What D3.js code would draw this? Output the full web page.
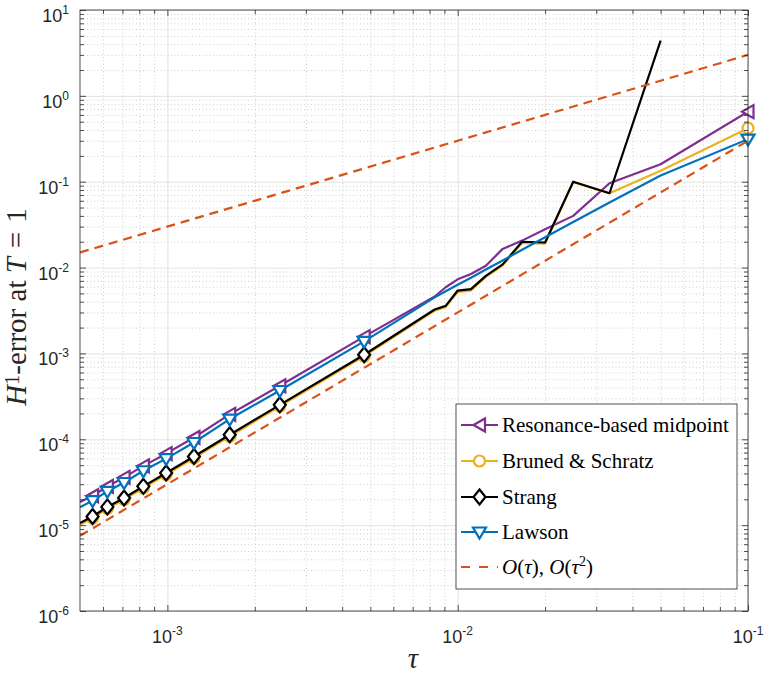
<!DOCTYPE html>
<html>
<head>
<meta charset="utf-8">
<script src="https://d3js.org/d3.v7.min.js"></script>
<style>
body { margin: 0; background: #fff; }
</style>
</head>
<body>
<script>
// number of steps N, tau = 1/N (T = 1)
var markerSteps = [10, 210, 410, 610, 810, 1010, 1210, 1410, 1610, 1810];

var resSteps = [10, 20, 30, 40, 50, 60, 70, 80, 90, 100, 110, 120, 210, 410, 610, 810, 1010, 1210, 1410, 1610, 1810, 2000];
var resErr   = [0.655, 0.160, 0.096, 0.040, 0.0280, 0.0206, 0.0165, 0.0105, 0.0084, 0.0073, 0.0059, 0.0046,
                1.57e-3, 4.2e-4, 1.95e-4, 1.05e-4, 6.8e-5, 4.9e-5, 3.6e-5, 2.82e-5, 2.2e-5, 1.86e-5];

var bsSteps = [10, 20, 30, 40, 50, 60, 70, 80, 90, 100, 110, 120, 210, 410, 610, 810, 1010, 1210, 1410, 1610, 1810, 2000];
var bsErr   = [0.42, 0.134, 0.0734, 0.099, 0.0190, 0.0194, 0.0106, 0.0078, 0.0054, 0.0052, 0.00347, 0.00315,
               9.3e-4, 2.42e-4, 1.08e-4, 6.05e-5, 3.88e-5, 2.71e-5, 1.98e-5, 1.56e-5, 1.21e-5, 1.01e-5];

var strSteps = [20, 30, 40, 50, 60, 70, 80, 90, 100, 110, 120, 210, 410, 610, 810, 1010, 1210, 1410, 1610, 1810, 2000];
var strErr   = [4.4, 0.0734, 0.100, 0.0196, 0.0200, 0.0109, 0.0080, 0.0056, 0.0054, 0.00358, 0.00325,
                9.64e-4, 2.52e-4, 1.13e-4, 6.31e-5, 4.05e-5, 2.83e-5, 2.07e-5, 1.63e-5, 1.26e-5, 1.06e-5];

var lawSteps = [10, 20, 30, 40, 50, 60, 70, 80, 90, 100, 110, 120, 210, 410, 610, 810, 1010, 1210, 1410, 1610, 1810, 2000];
var lawErr   = [0.313, 0.118, 0.0574, 0.034, 0.0225, 0.0161, 0.0121, 0.0095, 0.0076, 0.0063, 0.0053, 0.0045,
                1.38e-3, 3.70e-4, 1.72e-4, 9.18e-5, 5.95e-5, 4.30e-5, 3.14e-5, 2.47e-5, 1.93e-5, 1.62e-5];

// reference slopes O(tau), O(tau^2)
var refTau = [5e-4, 1e-1];
var refO1  = [0.015, 3.0];
var refO2  = [7.5e-6, 0.30];

var xMajor = [1e-3, 1e-2, 1e-1];
var yMajor = [1e-6, 1e-5, 1e-4, 1e-3, 1e-2, 1e-1, 1e0, 1e1];

var legendLabels = ["Resonance-based midpoint", "Bruned & Schratz", "Strang", "Lawson"];

var w = 764, h = 674;
var L = 80, R = 748, T = 10, B = 611;

var svg = d3.select("body").append("svg").attr("width", w).attr("height", h)
  .attr("font-family", "'Liberation Sans', Arial, sans-serif");

var x = d3.scaleLog().domain([5e-4, 1e-1]).range([L, R]);
var y = d3.scaleLog().domain([1e-6, 1e1]).range([B, T]);

// minor tick positions (2..9 within each decade)
function minors(dom) {
  var out = [];
  var lo = Math.floor(Math.log10(dom[0])), hi = Math.ceil(Math.log10(dom[1]));
  for (var e = lo; e < hi; e++) {
    for (var k = 2; k <= 9; k++) {
      var v = k * Math.pow(10, e);
      if (v > dom[0] * 1.0001 && v < dom[1] * 0.9999) out.push(v);
    }
  }
  return out;
}
var xMinor = minors(x.domain());
var yMinor = minors(y.domain());

// grid
function grid(axis, tr, vals, size, color, dash) {
  var g = svg.append("g").attr("transform", tr)
    .call(axis.tickValues(vals).tickSize(size).tickFormat(""));
  g.select(".domain").remove();
  g.selectAll("line").attr("stroke", color).attr("stroke-width", 0.8)
    .attr("stroke-dasharray", dash);
  return g;
}
grid(d3.axisBottom(x), "translate(0," + B + ")", xMinor, -(B - T), "#c4c4c4", "1,2.5");
grid(d3.axisLeft(y), "translate(" + L + ",0)", yMinor, -(R - L), "#c4c4c4", "1,2.5");
grid(d3.axisBottom(x), "translate(0," + B + ")", xMajor, -(B - T), "#dadada", null);
grid(d3.axisLeft(y), "translate(" + L + ",0)", yMajor, -(R - L), "#dadada", null);

// clip
svg.append("clipPath").attr("id", "plotclip").append("rect")
  .attr("x", L).attr("y", T).attr("width", R - L).attr("height", B - T);

function pts(steps, errs) {
  return steps.map(function(n, i) { return { tau: 1 / n, err: errs[i], n: n }; });
}

var line = d3.line().x(function(d) { return x(d.tau); }).y(function(d) { return y(d.err); });

var series = [
  { data: pts(resSteps, resErr), color: "#7E2F8E", marker: "left" },
  { data: pts(bsSteps, bsErr), color: "#EDB120", marker: "circle" },
  { data: pts(strSteps, strErr), color: "#000000", marker: "diamond" },
  { data: pts(lawSteps, lawErr), color: "#0072BD", marker: "down" }
];

function drawMarker(g, type, cx, cy, color) {
  var m;
  if (type === "circle") {
    m = g.append("circle").attr("cx", cx).attr("cy", cy).attr("r", 5.5);
  } else {
    var p;
    if (type === "left") p = [[cx - 6, cy], [cx + 5.5, cy - 6.5], [cx + 5.5, cy + 6.5]];
    if (type === "down") p = [[cx - 6.5, cy - 4.5], [cx + 6.5, cy - 4.5], [cx, cy + 6.5]];
    if (type === "diamond") p = [[cx, cy - 7.5], [cx + 6, cy], [cx, cy + 7.5], [cx - 6, cy]];
    m = g.append("polygon").attr("points", p.map(function(q) { return q.join(","); }).join(" "));
  }
  m.attr("fill", "#fff").attr("stroke", color).attr("stroke-width", 2.2)
    .attr("stroke-linejoin", "miter");
}

series.forEach(function(s) {
  svg.append("path").datum(s.data)
    .attr("clip-path", "url(#plotclip)")
    .attr("fill", "none").attr("stroke", s.color).attr("stroke-width", 2.2)
    .attr("stroke-linejoin", "round")
    .attr("d", line);
  var mg = svg.append("g");
  s.data.filter(function(d) { return markerSteps.indexOf(d.n) >= 0; }).forEach(function(d) {
    drawMarker(mg, s.marker, x(d.tau), y(d.err), s.color);
  });
});

// reference lines
[refO1, refO2].forEach(function(r) {
  var d = refTau.map(function(t, i) { return { tau: t, err: r[i] }; });
  svg.append("path").datum(d)
    .attr("clip-path", "url(#plotclip)")
    .attr("fill", "none").attr("stroke", "#D95319").attr("stroke-width", 2.2)
    .attr("stroke-dasharray", "9,6")
    .attr("d", line);
});

// box
svg.append("rect").attr("x", L).attr("y", T).attr("width", R - L).attr("height", B - T)
  .attr("fill", "none").attr("stroke", "#262626").attr("stroke-width", 0.8);

// ticks (inside, on all four sides)
function ticks(axis, tr, vals, size) {
  var g = svg.append("g").attr("transform", tr)
    .call(axis.tickValues(vals).tickSize(size).tickFormat(""));
  g.select(".domain").remove();
  g.selectAll("line").attr("stroke", "#262626").attr("stroke-width", 0.8);
}
ticks(d3.axisBottom(x), "translate(0," + B + ")", xMajor, -6);
ticks(d3.axisBottom(x), "translate(0," + B + ")", xMinor, -4);
ticks(d3.axisTop(x), "translate(0," + T + ")", xMajor, -6);
ticks(d3.axisTop(x), "translate(0," + T + ")", xMinor, -4);
ticks(d3.axisLeft(y), "translate(" + L + ",0)", yMajor, -6);
ticks(d3.axisLeft(y), "translate(" + L + ",0)", yMinor, -4);
ticks(d3.axisRight(y), "translate(" + R + ",0)", yMajor, -6);
ticks(d3.axisRight(y), "translate(" + R + ",0)", yMinor, -4);

// tick labels 10^k
function powLabel(t, d) {
  t.append("tspan").text("10");
  t.append("tspan").attr("dy", -8).attr("font-size", 12).text(Math.round(Math.log10(d)));
}
svg.selectAll(".xlab").data(xMajor).enter().append("text")
  .attr("x", function(d) { return x(d); }).attr("y", 643)
  .attr("text-anchor", "middle").attr("font-size", 18).attr("fill", "#262626")
  .each(function(d) { powLabel(d3.select(this), d); });
svg.selectAll(".ylab").data(yMajor).enter().append("text")
  .attr("x", 69).attr("y", function(d) { return y(d) + 12; })
  .attr("text-anchor", "end").attr("font-size", 18).attr("fill", "#262626")
  .each(function(d) { powLabel(d3.select(this), d); });

// axis titles
var serif = "'Liberation Serif', 'Times New Roman', serif";
svg.append("text").attr("x", (L + R) / 2 - 1).attr("y", 668)
  .attr("text-anchor", "middle").attr("font-family", serif).attr("font-size", 29)
  .attr("font-style", "italic").attr("fill", "#262626").text("τ");

var yt = svg.append("text").attr("transform", "translate(26,307) rotate(-90)")
  .attr("text-anchor", "middle").attr("font-family", serif).attr("font-size", 29).attr("fill", "#262626");
yt.append("tspan").attr("font-style", "italic").text("H");
yt.append("tspan").attr("dy", -7).attr("font-size", 20).text("1");
yt.append("tspan").attr("dy", 7).text("-error at ");
yt.append("tspan").attr("font-style", "italic").text("T");
yt.append("tspan").attr("dx", 9).text("=");
yt.append("tspan").attr("dx", 9).text("1");

// legend
var lg = svg.append("g").attr("font-family", serif);
lg.append("rect").attr("x", 456).attr("y", 404).attr("width", 281).attr("height", 185)
  .attr("fill", "#fff").attr("stroke", "#262626").attr("stroke-width", 0.8);
var rowY = [425, 461, 497, 532, 567];
series.forEach(function(s, i) {
  lg.append("line").attr("x1", 461).attr("x2", 498).attr("y1", rowY[i]).attr("y2", rowY[i])
    .attr("stroke", s.color).attr("stroke-width", 2.2);
  drawMarker(lg, s.marker, 479.5, rowY[i], s.color);
  lg.append("text").attr("x", 502).attr("y", rowY[i] + 7)
    .attr("font-size", 21).attr("fill", "#000").text(legendLabels[i]);
});
lg.append("line").attr("x1", 461).attr("x2", 498).attr("y1", rowY[4]).attr("y2", rowY[4])
  .attr("stroke", "#D95319").attr("stroke-width", 2.2).attr("stroke-dasharray", "9,9");
var ot = lg.append("text").attr("x", 502).attr("y", rowY[4] + 7)
  .attr("font-size", 21).attr("fill", "#000");
ot.append("tspan").attr("font-style", "italic").text("O");
ot.append("tspan").text("(");
ot.append("tspan").attr("font-style", "italic").text("τ");
ot.append("tspan").text("), ");
ot.append("tspan").attr("font-style", "italic").text("O");
ot.append("tspan").text("(");
ot.append("tspan").attr("font-style", "italic").text("τ");
ot.append("tspan").attr("dy", -8).attr("font-size", 14).text("2");
ot.append("tspan").attr("dy", 8).text(")");
</script>
</body>
</html>
